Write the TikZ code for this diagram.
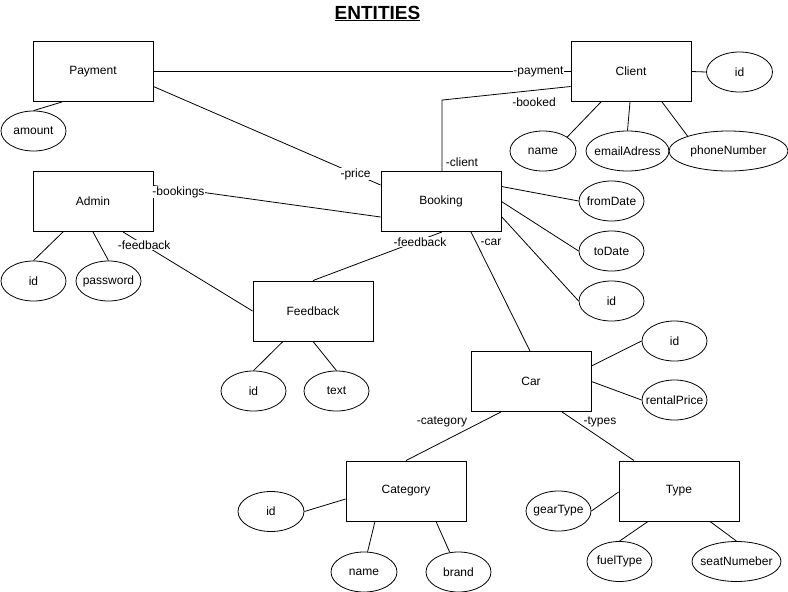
\documentclass[tikz,border=0pt]{standalone}
\usepackage{fontspec}
\setmainfont{Liberation Sans}
\usetikzlibrary{shapes.geometric}
\begin{document}
\begin{tikzpicture}[x=1pt,y=-1pt, font=\fontsize{12}{14}\selectfont,
  ent/.style={draw, rectangle, line width=0.9pt, minimum width=120pt, minimum height=60pt, inner sep=0pt},
  attr/.style={draw, ellipse, line width=0.8pt, minimum height=40pt, inner sep=0pt,
    execute at begin node={\hbox to 0pt\bgroup\hss}, execute at end node={\hss\egroup}},
  conn/.style={line width=0.8pt},
  lbl/.style={fill=white, inner sep=0.5pt}]
\useasboundingbox (0,0) rectangle (788,592);
% title
\node[font=\fontsize{19}{22}\selectfont\bfseries, anchor=base, inner sep=0pt] (title) at (377.5,19) {\underline{ENTITIES}};
% entities
\node[ent] (payment) at (93,71.5) {Payment};
\node[ent] (client) at (631,71.5) {Client};
\node[ent] (admin) at (93,201.5) {Admin};
\node[ent] (booking) at (441,201.5) {Booking};
\node[ent] (feedback) at (313,311) {Feedback};
\node[ent] (car) at (531,381.5) {Car};
\node[ent] (category) at (406,491) {Category};
\node[ent] (type) at (679,491) {Type};
% attributes
\node[attr, minimum width=65pt] (amount) at (33.5,131) {amount};
\node[attr, minimum width=66pt] (cid) at (739.5,72) {id};
\node[attr, minimum width=66pt] (cname) at (543,151) {name};
\node[attr, minimum width=83pt] (cemail) at (627.5,151) {emailAdress};
\node[attr, minimum width=119pt] (cphone) at (728.5,151) {phoneNumber};
\node[attr, minimum width=65pt] (from) at (611.5,201) {fromDate};
\node[attr, minimum width=65pt] (to) at (611.5,251) {toDate};
\node[attr, minimum width=65pt] (bid) at (611.5,301) {id};
\node[attr, minimum width=65pt] (aid) at (33.5,281) {id};
\node[attr, minimum width=65pt] (apw) at (108.5,281) {password};
\node[attr, minimum width=65pt] (fid) at (253.5,391) {id};
\node[attr, minimum width=65pt] (ftext) at (336.5,391) {text};
\node[attr, minimum width=65pt] (carid) at (674.5,341) {id};
\node[attr, minimum width=65pt] (rental) at (674.5,400) {rentalPrice};
\node[attr, minimum width=66pt] (catid) at (271,511.5) {id};
\node[attr, minimum width=66pt] (catname) at (364,572) {name};
\node[attr, minimum width=65pt] (brand) at (458.5,572) {brand};
\node[attr, minimum width=65pt] (gear) at (558.5,511) {gearType};
\node[attr, minimum width=65pt] (fuel) at (619.5,561.5) {fuelType};
\node[attr, minimum width=89pt] (seat) at (736.5,561.5) {seatNumeber};
% relations
\draw[conn] (payment.east) -- node[lbl, pos=0.923] {-payment} (client.west);
\draw[conn] ([yshift=-15pt]payment.east) -- node[lbl, pos=0.89] {-price} ([yshift=16.5pt]booking.west);
\draw[conn] ([yshift=-15pt]client.west) -- ([xshift=1pt,yshift=71pt]booking.north) -- ([xshift=1pt]booking.north);
\node (lbooked) at (534,102) {-booked};
\node (lclient) at (462,162) {-client};
\draw[conn] ([yshift=16pt]admin.east) -- node[lbl, pos=0.11, yshift=-3pt] {-bookings} ([yshift=-15.5pt]booking.west);
\draw[conn] ([xshift=30pt]admin.south) -- node[lbl, pos=0.163] {-feedback} (feedback.west);
\draw[conn] ([xshift=1pt]booking.south) -- node[lbl, pos=0.17, yshift=-2pt] {-feedback} (feedback.north);
\draw[conn] ([xshift=30pt]booking.south) -- ([xshift=-1pt]car.north);
\node (lcar) at (491,242) {-car};
\draw[conn] ([xshift=-30pt]car.south) -- (category.north);
\node (lcat) at (442,422) {-category};
\draw[conn] ([xshift=31pt]car.south) -- ([xshift=-45pt]type.north);
\node (ltypes) at (600,422) {-types};
% attribute links
\draw[conn] ([xshift=-31pt]payment.south) -- (amount.north);
\draw[conn] (client.east) -- (cid.west);
\draw[conn] ([xshift=-30pt]client.south) -- (cname.30);
\draw[conn] ([xshift=-1pt]client.south) -- (cemail.north);
\draw[conn] ([xshift=31pt]client.south) -- (cphone.160);
\draw[conn] ([yshift=15pt]booking.east) -- (from.west);
\draw[conn] (booking.east) -- (to.west);
\draw[conn] ([yshift=-15pt]booking.east) -- (bid.west);
\draw[conn] ([xshift=-30pt]admin.south) -- (aid.north);
\draw[conn] (admin.south) -- (apw.north);
\draw[conn] ([xshift=-30pt]feedback.south) -- (fid.north);
\draw[conn] (feedback.south) -- (ftext.north);
\draw[conn] ([yshift=15.5pt]car.east) -- (carid.west);
\draw[conn] (car.east) -- (rental.west);
\draw[conn] ([yshift=-8pt]category.west) -- (catid.east);
\draw[conn] ([xshift=-31pt]category.south) -- (catname.80);
\draw[conn] ([xshift=30pt]category.south) -- (brand.114);
\draw[conn] ([yshift=-1pt]type.west) -- (gear.east);
\draw[conn] ([xshift=-31pt]type.south) -- (fuel.north);
\draw[conn] ([xshift=31pt]type.south) -- (seat.north);
\end{tikzpicture}
\end{document}
